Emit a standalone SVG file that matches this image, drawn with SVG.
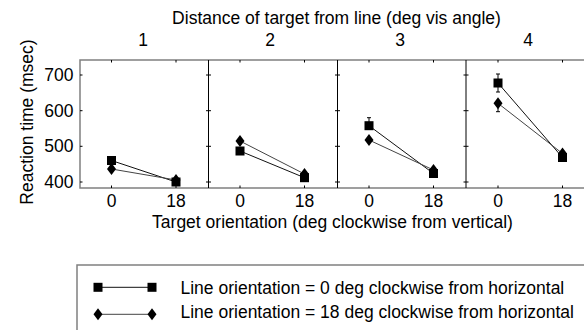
<svg xmlns="http://www.w3.org/2000/svg" width="584" height="330" viewBox="0 0 584 330">
<defs>
<style>
text{font-family:"Liberation Sans",Arial,sans-serif;font-size:17.5px;fill:#000}
.mid{text-anchor:middle}
.end{text-anchor:end}
.frame{fill:none;stroke:#808080;stroke-width:1.5}
.div{stroke:#000;stroke-width:1}
.tick{stroke:#000;stroke-width:1}
.ls{stroke:#111;stroke-width:1;fill:none}
.ld{stroke:#444;stroke-width:1;fill:none}
.eb{stroke:#000;stroke-width:1;fill:none}
</style>
<rect id="sq" x="-4.5" y="-4.5" width="9" height="9" fill="#000"/>
<polygon id="di" points="0,-6 4.5,0 0,6 -4.5,0" fill="#000"/>
</defs>
<rect width="584" height="330" fill="#fff"/>

<text class="mid" x="336.5" y="24">Distance of target from line (deg vis angle)</text>
<text class="mid" x="143" y="45.5">1</text>
<text class="mid" x="270" y="45.5">2</text>
<text class="mid" x="400" y="45.5">3</text>
<text class="mid" x="528" y="45.5">4</text>

<text class="mid" transform="translate(32.5,122) rotate(-90)">Reaction time (msec)</text>
<g id="yticks">
<text class="end" x="73.5" y="81">700</text>
<text class="end" x="73.5" y="116.5">600</text>
<text class="end" x="73.5" y="152">500</text>
<text class="end" x="73.5" y="188">400</text>
</g>

<g id="frame">
<path class="frame" d="M600,60 H80 V188 H600"/>
<line class="div" x1="208.5" y1="60" x2="208.5" y2="188"/>
<line class="div" x1="337.5" y1="60" x2="337.5" y2="188"/>
<line class="div" x1="466" y1="60" x2="466" y2="188"/>
<path class="tick" d="M80,75 h2.5 M80,110.7 h2.5 M80,146.3 h2.5 M80,182 h2.5
M206,75 h5 M206,110.7 h5 M206,146.3 h5 M206,182 h5
M335,75 h5 M335,110.7 h5 M335,146.3 h5 M335,182 h5
M463.5,75 h5 M463.5,110.7 h5 M463.5,146.3 h5 M463.5,182 h5
M111.5,60 v2.5 M176,60 v2.5 M240,60 v2.5 M304.5,60 v2.5 M369,60 v2.5 M433.5,60 v2.5 M498,60 v2.5 M562.5,60 v2.5
M111.5,188 v-2.5 M176,188 v-2.5 M240,188 v-2.5 M304.5,188 v-2.5 M369,188 v-2.5 M433.5,188 v-2.5 M498,188 v-2.5 M562.5,188 v-2.5"/>
</g>

<g id="xticks">
<text class="mid" x="111.5" y="207">0</text>
<text class="mid" x="176" y="207">18</text>
<text class="mid" x="240" y="207">0</text>
<text class="mid" x="304.5" y="207">18</text>
<text class="mid" x="369" y="207">0</text>
<text class="mid" x="433.5" y="207">18</text>
<text class="mid" x="498" y="207">0</text>
<text class="mid" x="562.5" y="207">18</text>
</g>
<text class="mid" x="332.5" y="228">Target orientation (deg clockwise from vertical)</text>

<g id="connectors">
<line class="ls" x1="111.5" y1="160.5" x2="176" y2="182"/>
<line class="ld" x1="111.5" y1="169" x2="176" y2="180"/>
<line class="ls" x1="240" y1="151" x2="304.5" y2="177.7"/>
<line class="ld" x1="240" y1="141" x2="304.5" y2="174"/>
<line class="ls" x1="369" y1="125.7" x2="433.5" y2="173.5"/>
<line class="ld" x1="369" y1="140" x2="433.5" y2="170"/>
<line class="ls" x1="498" y1="83" x2="562.5" y2="157.5"/>
<line class="ld" x1="498" y1="103.3" x2="562.5" y2="153.5"/>
</g>

<g id="errorbars">
<path class="eb" d="M369,125.7 V117.7 M367,117.7 h4"/>
<path class="eb" d="M498,83 V74 M496,74 h4 M498,83 V92 M496,92 h4"/>
<path class="eb" d="M498,103.3 V111.7 M496,111.7 h4"/>
</g>

<g id="panel1">
<use href="#di" x="111.5" y="169"/>
<use href="#sq" x="111.5" y="160.5"/>
<use href="#di" x="176" y="180"/>
<use href="#sq" x="176" y="182"/>
</g>
<g id="panel2">
<use href="#sq" x="240" y="151"/>
<use href="#di" x="240" y="141"/>
<use href="#di" x="304.5" y="174"/>
<use href="#sq" x="304.5" y="177.7"/>
</g>
<g id="panel3">
<use href="#sq" x="369" y="125.7"/>
<use href="#di" x="369" y="140"/>
<use href="#di" x="433.5" y="170"/>
<use href="#sq" x="433.5" y="173.5"/>
</g>
<g id="panel4">
<use href="#sq" x="498" y="83"/>
<use href="#di" x="498" y="103.3"/>
<use href="#di" x="562.5" y="153.5"/>
<use href="#sq" x="562.5" y="157.5"/>
</g>

<g id="legend">
<rect x="77" y="265" width="600" height="100" fill="none" stroke="#808080" stroke-width="1.5"/>
<line class="ls" x1="98" y1="287.3" x2="152" y2="287.3"/>
<use href="#sq" x="98" y="287.3"/>
<use href="#sq" x="152" y="287.3"/>
<text x="180.5" y="294">Line orientation = 0 deg clockwise from horizontal</text>
<line class="ld" x1="98" y1="314.3" x2="152" y2="314.3"/>
<use href="#di" x="98" y="314.3"/>
<use href="#di" x="152" y="314.3"/>
<text x="180.5" y="317.5">Line orientation = 18 deg clockwise from horizontal</text>
</g>
</svg>
